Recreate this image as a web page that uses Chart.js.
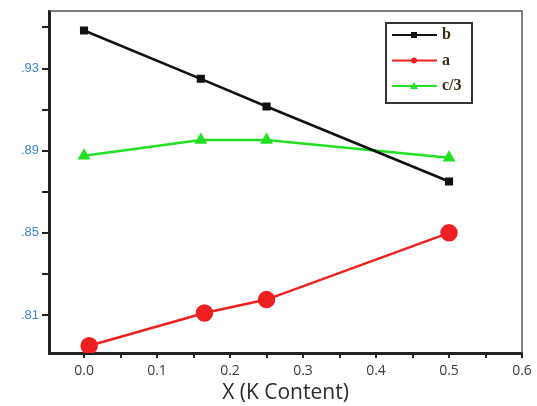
<!DOCTYPE html>
<html>
<head>
<meta charset="utf-8">
<script src="https://cdn.jsdelivr.net/npm/chart.js@4/dist/chart.umd.min.js"></script>
<style>
	html, body { margin: 0; padding: 0; background: #fff; }
	#wrap { width: 537px; height: 406px; position: relative; }
</style>
</head>
<body>
<div id="wrap"><canvas id="chart"></canvas></div>
<script>
// values
const xB = [0, 0.16, 0.25, 0.5];
const yB = [0.9485, 0.925, 0.9115, 0.875];
const xA = [0.007, 0.165, 0.25, 0.5];
const yA = [0.795, 0.811, 0.8175, 0.85];
const xC = [0, 0.16, 0.25, 0.5];
const yC = [0.8875, 0.8952, 0.8952, 0.8866];
const xTicks = [0, 0.05, 0.1, 0.15, 0.2, 0.25, 0.3, 0.35, 0.4, 0.45, 0.5, 0.55, 0.6];
const yTicks = [0.81, 0.83, 0.85, 0.87, 0.89, 0.91, 0.93, 0.95];
const yLabels = { 0.81: '.81', 0.85: '.85', 0.89: '.89', 0.93: '.93' };

const d = document;
const pts = (xs, ys) => xs.map((x, i) => ({ x, y: ys[i] }));

// frame on top/right + boxed legend
const framePlugin = {
	id: 'frame',
	afterDraw(chart) {
		const { ctx, chartArea: a } = chart;
		ctx.save();
		ctx.strokeStyle = '#555';
		ctx.lineWidth = 1.5;
		ctx.beginPath();
		ctx.moveTo(a.left, a.top);
		ctx.lineTo(a.right, a.top);
		ctx.lineTo(a.right, a.bottom);
		ctx.stroke();

		// legend box
		const bx = 386, by = 23, bw = 86, bh = 80;
		ctx.strokeStyle = '#333';
		ctx.lineWidth = 2;
		ctx.strokeRect(bx, by, bw, bh);
		chart.data.datasets.forEach((ds, i) => {
			const y = 35 + i * 25.5;
			ctx.strokeStyle = ds.borderColor;
			ctx.lineWidth = 2;
			ctx.beginPath();
			ctx.moveTo(392, y);
			ctx.lineTo(437, y);
			ctx.stroke();
			ctx.fillStyle = ds.borderColor;
			ctx.beginPath();
			if (ds.pointStyle === 'rect') ctx.rect(411, y - 3, 6, 6);
			else if (ds.pointStyle === 'triangle') {
				ctx.moveTo(414, y - 4); ctx.lineTo(418, y + 3); ctx.lineTo(410, y + 3); ctx.closePath();
			} else ctx.arc(414, y, 3, 0, Math.PI * 2);
			ctx.fill();
			ctx.fillStyle = '#3a2a12';
			ctx.font = 'bold 16px "Liberation Serif"';
			ctx.textBaseline = 'middle';
			ctx.fillText(ds.label, 442, y);
		});
		ctx.restore();
	},
};

const config = {
	type: 'scatter',
	data: {
		datasets: [
			{
				label: 'b',
				data: pts(xB, yB),
				showLine: true,
				borderColor: '#111',
				backgroundColor: '#111',
				borderWidth: 2.5,
				pointStyle: 'rect',
				pointRadius: 4,
			},
			{
				label: 'a',
				data: pts(xA, yA),
				showLine: true,
				borderColor: '#ee2020',
				backgroundColor: '#ee2020',
				borderWidth: 2.5,
				pointStyle: 'circle',
				pointRadius: 7.5,
			},
			{
				label: 'c/3',
				data: pts(xC, yC),
				showLine: true,
				borderColor: '#22e022',
				backgroundColor: '#22e022',
				borderWidth: 2.5,
				pointStyle: 'triangle',
				pointRadius: 5,
			},
		],
	},
	options: {
		responsive: true,
		maintainAspectRatio: false,
		animation: false,
		layout: { padding: { top: 11, right: 15, left: 0, bottom: 0 } },
		plugins: {
			legend: { display: false },
			tooltip: { enabled: false },
		},
		scales: {
			x: {
				type: 'linear',
				min: -0.048,
				max: 0.6,
				afterBuildTicks: (scale) => {
					scale.ticks = xTicks.map((v) => ({ value: v }));
				},
				afterFit: (scale) => {
					scale.height = 53;
				},
				grid: { drawOnChartArea: false, drawTicks: true, tickLength: 5, color: '#222', lineWidth: 2 },
				border: { display: true, color: '#222', width: 3 },
				ticks: {
					autoSkip: false,
					maxRotation: 0,
					padding: 5,
					color: '#3e3c3a',
					font: { family: '"Open Sans"', size: 14 },
					callback: (v) => (Math.round(v * 100) % 10 === 0 ? v.toFixed(1) : ''),
				},
				title: {
					display: true,
					text: 'X (K Content)',
					color: '#2a2a2a',
					font: { family: '"Open Sans"', size: 21 },
					padding: { top: -9, bottom: 0 },
				},
			},
			y: {
				min: 0.7915,
				max: 0.958,
				afterBuildTicks: (scale) => {
					scale.ticks = yTicks.map((v) => ({ value: v }));
				},
				afterFit: (scale) => {
					scale.width = 49;
				},
				grid: { drawOnChartArea: false, drawTicks: true, tickLength: 7, color: '#222', lineWidth: 2 },
				border: { display: true, color: '#222', width: 3 },
				ticks: {
					autoSkip: false,
					padding: 3,
					color: '#3a86d0',
					font: { family: '"Liberation Sans"', size: 13 },
					callback: (v) => yLabels[Math.round(v * 100) / 100] || '',
				},
			},
		},
	},
	plugins: [framePlugin],
};

new Chart(d.getElementById('chart'), config);
</script>
</body>
</html>
